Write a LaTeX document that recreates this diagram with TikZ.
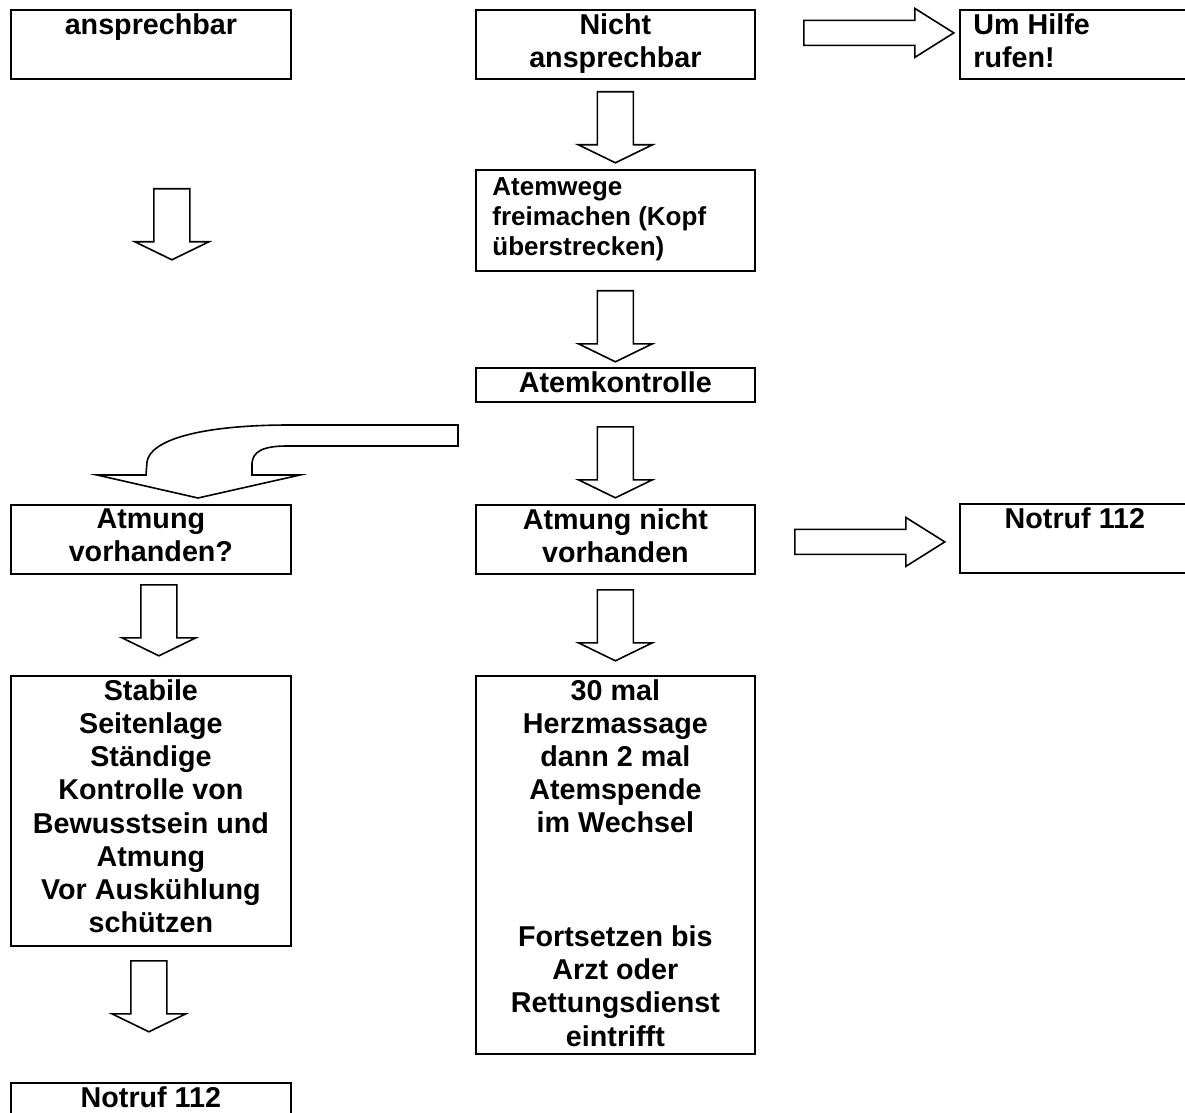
\documentclass[tikz,border=0pt]{standalone}
\usepackage{fontspec}
\setmainfont{Liberation Sans}
\usetikzlibrary{positioning}

\tikzset{
	box/.style 2 args={draw, line width=0.9pt, minimum width=#1, minimum height=#2,
		anchor=north west, inner sep=0pt},
	boxtext/.style={inner sep=0pt, anchor=north, align=center,
		font=\bfseries\fontsize{14.35pt}{16.6pt}\selectfont},
	blockpfeil/.style={draw, line width=0.8pt, line join=miter, fill=white},
	pics/pfeilrunter/.style={code={
		\draw[blockpfeil] (-18,0) -- (-18,53) -- (-37,53) -- (0,71) -- (37,53) -- (18,53) -- (18,0) -- cycle;
	}},
	pics/pfeilrechts/.style={code={
		\draw[blockpfeil] (0,-12.5) -- (111,-12.5) -- (111,-24.5) -- (150,0) -- (111,24.5) -- (111,12.5) -- (0,12.5) -- cycle;
	}}
}

\begin{document}
\begin{tikzpicture}[x=0.5pt,y=-0.5pt]
	\useasboundingbox (0,0) rectangle (1185,1113);
	\clip (0,0) rectangle (1185,1113);
	
	% obere Reihe
	\node[box={140pt}{34.5pt}] (ansp) at (10,9) {};
	\node[boxtext] (ansp-t) at ([yshift=-2pt]ansp.north) {ansprechbar};
	\node[box={139.5pt}{34.5pt}] (nicht) at (475,9) {};
	\node[boxtext] (nicht-t) at ([yshift=-2pt]nicht.north) {Nicht\\ansprechbar};
	\node[box={115pt}{34.5pt}] (hilfe) at (959,9) {};
	\node[boxtext, anchor=north west, align=left] (hilfe-t) at ([xshift=7pt,yshift=-2pt]hilfe.north west) {Um Hilfe\\rufen!};
	\pic at ([xshift=24pt,yshift=5.75pt]nicht.east) {pfeilrechts};
	
	\pic at ([xshift=10.5pt,yshift=-54.5pt]ansp.south) {pfeilrunter};
	\pic at ([yshift=-6pt]nicht.south) {pfeilrunter};
	
	% Atemwege
	\node[box={139.5pt}{50.5pt}] (atemwege) at (475,169) {};
	\node[boxtext, anchor=north west, align=left, font=\bfseries\fontsize{13pt}{15pt}\selectfont] (atemwege-t)
		at ([xshift=8.5pt,yshift=-4pt]atemwege.north west) {Atemwege\\freimachen (Kopf\\überstrecken)};
	\pic at ([yshift=-9.5pt]atemwege.south) {pfeilrunter};
	
	\node[box={139.5pt}{17pt}] (atemk) at (475,367) {};
	\node[boxtext] (atemk-t) at ([yshift=-2pt]atemk.north) {Atemkontrolle};
	\pic at ([yshift=-12pt]atemk.south) {pfeilrunter};
	
	% gebogener Pfeil nach links
	\draw[blockpfeil] (458,425) -- (290,425) .. controls (200,425) and (150,440) .. (147,462)
		-- (146,475) -- (97,475) -- (198,498) -- (300,475) -- (252,475) -- (252,463)
		.. controls (253,452) and (262,446) .. (287,446) -- (458,446) -- cycle;
	
	% Atmung
	\node[box={140pt}{34.5pt}] (vorh) at (10,504) {};
	\node[boxtext] (vorh-t) at ([yshift=-2pt]vorh.north) {Atmung\\vorhanden?};
	\node[box={139.5pt}{34.5pt}] (nvorh) at (475,504) {};
	\node[boxtext] (nvorh-t) at ([yshift=-2pt]nvorh.north) {Atmung nicht\\vorhanden};
	\node[box={115pt}{34.5pt}] (notruf) at (959,503) {};
	\node[boxtext] (notruf-t) at ([yshift=-2pt]notruf.north) {Notruf 112};
	\pic at ([xshift=19.5pt,yshift=-1.25pt]nvorh.east) {pfeilrechts};
	
	\pic at ([xshift=4pt,yshift=-5pt]vorh.south) {pfeilrunter};
	\pic at ([yshift=-7.5pt]nvorh.south) {pfeilrunter};
	
	% untere Reihe
	\node[box={140pt}{135pt}] (stabil) at (10,675) {};
	\node[boxtext] (stabil-t) at ([yshift=-2pt]stabil.north) {Stabile\\Seitenlage\\Ständige\\Kontrolle von\\Bewusstsein und\\Atmung\\Vor Auskühlung\\schützen};
	\node[box={139.5pt}{189pt}] (herz) at (475,675) {};
	\node[boxtext] (herz-t) at ([yshift=-2pt]herz.north) {30 mal\\Herzmassage\\dann 2 mal\\Atemspende\\im Wechsel};
	\node[boxtext, anchor=south] (herz-t2) at ([yshift=4pt]herz.south) {Fortsetzen bis\\Arzt oder\\Rettungsdienst\\eintrifft};
	
	\pic at ([xshift=-1pt,yshift=-7pt]stabil.south) {pfeilrunter};
	\node[box={140pt}{30pt}] (notruf2) at (10,1082) {};
	\node[boxtext] (notruf2-t) at ([yshift=-2pt]notruf2.north) {Notruf 112};
\end{tikzpicture}
\end{document}
